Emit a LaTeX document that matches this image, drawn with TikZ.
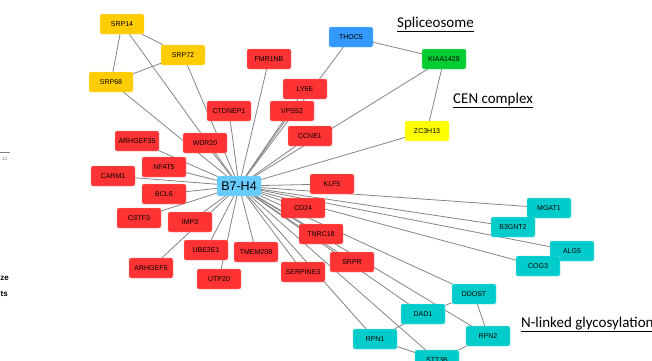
\documentclass[tikz,border=0pt]{standalone}
\usepackage{fontspec}
\setmainfont{Liberation Sans}
\newfontfamily\calibrifont{Carlito}
\usetikzlibrary{backgrounds}
\definecolor{genered}{HTML}{FF3333}
\definecolor{srpyellow}{HTML}{FFCC00}
\definecolor{thocblue}{HTML}{3399FF}
\definecolor{kiaagreen}{HTML}{00CC33}
\definecolor{cenyellow}{HTML}{FFFF00}
\definecolor{glycyan}{HTML}{00CCCC}
\definecolor{hubblue}{HTML}{66CCFF}
\definecolor{edgegray}{HTML}{848484}

\begin{document}
\begin{tikzpicture}[x=1pt,y=-1pt,
	gene/.style={rounded corners=2pt,minimum width=44pt,minimum height=20pt,inner sep=1pt,line width=.4pt,font=\fontsize{7}{8}\selectfont},
	redgene/.style={gene,fill=genered,draw=genered!55!white},
	srpgene/.style={gene,fill=srpyellow,draw=srpyellow!55!white},
	glygene/.style={gene,fill=glycyan,draw=glycyan!55!white},
	link/.style={draw=edgegray,line width=.8pt},
	grouplabel/.style={anchor=base west,inner sep=0pt,font=\calibrifont\fontsize{15}{16}\selectfont}]
\useasboundingbox (0,0) rectangle (652,360);
\clip (0,0) rectangle (652,360);

\node (hub) at (239,186) [gene,fill=hubblue,draw=hubblue!55!white,font=\fontsize{12.5}{14}\selectfont] {B7-H4};

% SRP complex
\node (srp14) at (122,24) [srpgene] {SRP14};
\node (srp72) at (183,55) [srpgene] {SRP72};
\node (srp68) at (111,82) [srpgene] {SRP68};

% spliceosome and CEN complex
\node (thoc5) at (351,37) [gene,fill=thocblue,draw=thocblue!55!white] {THOC5};
\node (kiaa1429) at (444,59) [gene,fill=kiaagreen,draw=kiaagreen!55!white] {KIAA1429};
\node (zc3h13) at (427,131) [gene,fill=cenyellow,draw=cenyellow!55!white] {ZC3H13};

% red partners
\node (fmr1nb) at (269,59) [redgene] {FMR1NB};
\node (ly6e) at (305,89) [redgene] {LY6E};
\node (vps52) at (292,111) [redgene] {VPS52};
\node (ccne1) at (310,136) [redgene] {CCNE1};
\node (ctdnep1) at (229,111) [redgene] {CTDNEP1};
\node (wdr20) at (205,143) [redgene] {WDR20};
\node (arhgef35) at (137,141) [redgene] {ARHGEF35};
\node (nfat5) at (164,167) [redgene] {NFAT5};
\node (carm1) at (113,176) [redgene] {CARM1};
\node (bcl6) at (164,194) [redgene] {BCL6};
\node (cstf3) at (139,218) [redgene] {CSTF3};
\node (imp3) at (190,222) [redgene] {IMP3};
\node (ube2e1) at (206,250) [redgene] {UBE2E1};
\node (arhgef5) at (151,268) [redgene] {ARHGEF5};
\node (utp20) at (219,279) [redgene] {UTP20};
\node (tmem208) at (256,252) [redgene] {TMEM208};
\node (serpine3) at (303,272) [redgene] {SERPINE3};
\node (srpr) at (352,262) [redgene] {SRPR};
\node (tnrc18) at (321,234) [redgene] {TNRC18};
\node (cd24) at (303,208) [redgene] {CD24};
\node (klf5) at (332,184) [redgene] {KLF5};

% N-linked glycosylation
\node (mgat1) at (549,208) [glygene] {MGAT1};
\node (b3gnt2) at (513,227) [glygene] {B3GNT2};
\node (alg5) at (572,251) [glygene] {ALG5};
\node (cog3) at (538,266) [glygene] {COG3};
\node (ddost) at (474,294) [glygene] {DDOST};
\node (dad1) at (423,314) [glygene] {DAD1};
\node (rpn2) at (488,336) [glygene] {RPN2};
\node (rpn1) at (375,339) [glygene] {RPN1};
\node (stt3b) at (437,360) [glygene] {STT3B};

\node (splice) at (397,27) [grouplabel] {\underline{Spliceosome}};
\node (cen) at (453,103) [grouplabel] {\underline{CEN complex}};
\node (glyco) at (521,327) [grouplabel] {\underline{N-linked glycosylation}};

% cut-off bits at the left edge
\node (cutze) at (9,278) [anchor=east,inner sep=0pt,font=\bfseries\fontsize{8}{9}\selectfont] {ze};
\node (cutts) at (8,294) [anchor=east,inner sep=0pt,font=\bfseries\fontsize{8}{9}\selectfont] {ts};
\node (cutnum) at (2,159) [anchor=west,inner sep=0pt,text=gray,font=\fontsize{5}{6}\selectfont] {12};
\coordinate (cutl) at (0,152);
\coordinate (cutr) at (10,152);
\draw[gray,line width=.4pt] (cutl) -- (cutr);

\begin{scope}[on background layer]
	\foreach \g in {srp14,srp72,srp68,thoc5,kiaa1429,zc3h13,fmr1nb,ly6e,vps52,ccne1,ctdnep1,wdr20,arhgef35,nfat5,carm1,bcl6,cstf3,imp3,ube2e1,arhgef5,utp20,tmem208,serpine3,srpr,tnrc18,cd24,klf5,mgat1,b3gnt2,alg5,cog3,ddost,dad1,rpn2,rpn1,stt3b} {
		\draw[link] (hub.center) -- (\g.center);
		}
	\draw[link] (srp14) -- (srp72);
	\draw[link] (srp14) -- (srp68);
	\draw[link] (srp72) -- (srp68);
	\draw[link] (thoc5) -- (kiaa1429);
	\draw[link] (kiaa1429) -- (zc3h13);
	\draw[link] (ddost) -- (dad1);
	\draw[link] (ddost) -- (rpn2);
	\draw[link] (dad1) -- (rpn1);
	\draw[link] (rpn1) -- (stt3b);
	\draw[link] (stt3b) -- (rpn2);
\end{scope}
\end{tikzpicture}
\end{document}
